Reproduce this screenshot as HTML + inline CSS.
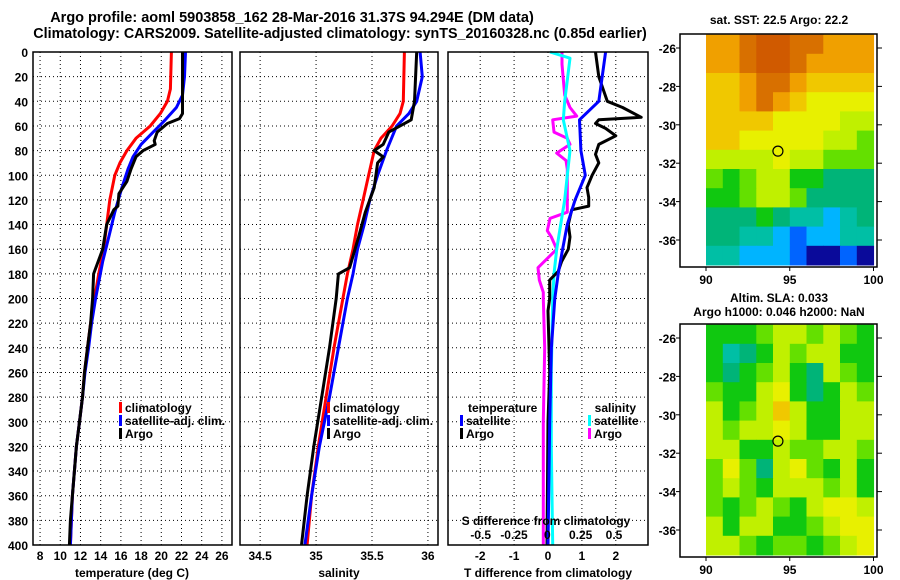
<!DOCTYPE html>
<html><head><meta charset="utf-8"><style>
html,body{margin:0;padding:0;background:#fff;}
svg{display:block;font-family:"Liberation Sans",Arial,sans-serif;font-weight:bold;}
</style></head><body>
<svg id="c" width="900" height="580" viewBox="0 0 900 580">
<text x="292" y="22" font-size="14.5" text-anchor="middle">Argo profile: aoml 5903858_162 28-Mar-2016 31.37S 94.294E (DM data)</text>
<text x="340" y="38" font-size="14.3" text-anchor="middle">Climatology: CARS2009. Satellite-adjusted climatology: synTS_20160328.nc (0.85d earlier)</text>
<text x="779" y="24" font-size="12" text-anchor="middle">sat. SST: 22.5 Argo: 22.2</text>
<text x="779" y="302" font-size="12" text-anchor="middle">Altim. SLA: 0.033</text>
<text x="779" y="316" font-size="12" text-anchor="middle">Argo h1000: 0.046 h2000: NaN</text>
<text transform="translate(893,548) rotate(-90)" font-size="12" font-weight="normal">©IMOS 13-Dec-2018 00:43:13</text>
<g id="g"></g>
</svg>
<script>
// ---- data ----
const depthTicks=[0,20,40,60,80,100,120,140,160,180,200,220,240,260,280,300,320,340,360,380,400];
const tTicks=[8,10,12,14,16,18,20,22,24,26];
const sTicks=[34.5,35,35.5,36];
const dTTicks=[-2,-1,0,1,2];
const dSTicks=[-0.5,-0.25,0,0.25,0.5];
const dSTickLabels=["-0.5","-0.25","0","0.25","0.5"];

const tClimDepth=[0,30,40,50,60,70,80,90,100,120,140,160,180,200,220,240,260,280,300,320,340,360,380,400];
const tClimVal=[21.0,20.9,20.6,19.9,18.9,17.5,16.6,15.9,15.4,14.9,14.6,14.3,13.8,13.4,13.0,12.7,12.4,12.2,11.9,11.6,11.4,11.2,11.1,11.0];
const tSatDepth=[0,20,35,45,55,65,75,85,95,110,130,150,170,200,220,240,260,280,300,320,340,360,380,400];
const tSatVal=[22.4,22.3,22.1,21.5,20.4,19.2,18.0,17.2,16.7,16.1,15.4,14.8,14.2,13.5,13.1,12.8,12.45,12.2,11.9,11.6,11.4,11.2,11.1,11.0];
const tArgoDepth=[0,50,54,58,65,72,75,80,85,95,105,115,125,128,140,160,180,200,220,240,260,280,300,320,340,360,380,400];
const tArgoVal=[22.1,22.1,21.8,20.6,19.6,19.3,19.4,18.2,17.5,17.0,16.6,15.8,15.7,15.3,14.6,14.2,13.3,13.2,13.0,12.7,12.4,12.2,11.9,11.6,11.4,11.2,11.0,10.9];

const sClimDepth=[0,40,50,60,70,80,100,120,140,160,180,200,240,280,320,360,400];
const sClimVal=[35.79,35.78,35.75,35.68,35.58,35.52,35.47,35.42,35.37,35.33,35.28,35.24,35.16,35.09,35.02,34.96,34.92];
const sSatDepth=[0,20,40,50,60,80,100,120,140,160,180,200,240,280,320,360,400];
const sSatVal=[35.93,35.95,35.9,35.83,35.72,35.63,35.55,35.48,35.43,35.37,35.33,35.28,35.2,35.12,35.03,34.96,34.9];
const sArgoDepth=[0,40,55,65,75,80,85,90,110,130,150,175,180,200,240,280,320,360,400];
const sArgoVal=[35.9,35.88,35.85,35.65,35.6,35.52,35.6,35.55,35.52,35.44,35.38,35.3,35.2,35.18,35.12,35.05,34.98,34.92,34.87];

const dTSatDepth=[0,40,55,80,100,120,140,160,180,200,240,300,400];
const dTSatVal=[1.7,1.5,0.93,0.97,1.1,0.8,0.57,0.43,0.3,0.2,0.1,0.05,0.0];
const dTArgoDepth=[0,20,40,45,53,55,58,62,68,75,83,90,100,110,118,125,128,140,150,160,170,178,185,200,210,260,300,400];
const dTArgoVal=[1.4,1.5,1.75,2.2,2.75,1.5,1.4,1.7,2.0,1.5,1.4,1.5,1.3,1.15,1.2,1.2,0.7,0.6,0.65,0.6,0.4,0.3,0.05,0.05,0.0,0.05,0.0,-0.03];
const dSSatDepth=[0,5,40,55,70,80,100,120,140,160,180,200,260,320,400];
const dSSatVal=[0.02,0.17,0.13,0.12,0.15,0.17,0.15,0.13,0.1,0.07,0.05,0.04,0.03,0.03,0.04];
const dSArgoDepth=[0,10,35,45,52,55,65,70,75,82,88,95,130,135,145,150,160,175,185,195,200,240,300,400];
const dSArgoVal=[0.11,0.11,0.13,0.17,0.22,0.04,0.05,0.15,0.17,0.07,0.14,0.15,0.15,0.02,0.0,0.03,0.07,-0.07,-0.06,-0.03,-0.03,-0.02,-0.03,-0.03];

const sstGrid=[
[10,10,11,12,12,11,11,10,10,10],
[10,10,11,12,12,11,10,10,10,10],
[9,9,10,11,11,10,9,9,9,9],
[9,9,10,11,10,9,8,8,8,8],
[9,9,9,9,8,8,8,8,7,7],
[9,9,8,8,8,8,8,7,7,6],
[7,7,7,7,8,7,7,6,6,6],
[6,5,6,7,7,5,5,4,4,4],
[5,5,6,7,7,6,4,4,4,4],
[4,4,4,5,4,3,3,2,3,4],
[4,4,3,3,2,1,2,2,3,3],
[3,3,2,2,2,1,0,0,1,0]];
const slaGrid=[
[5,5,5,6,7,7,6,7,6,5],
[5,3,4,5,7,6,7,7,5,5],
[5,4,5,6,7,5,4,7,6,5],
[6,5,5,7,8,5,4,5,7,6],
[7,5,6,7,9,7,5,5,7,7],
[7,6,7,7,8,7,5,5,7,7],
[7,7,5,5,7,6,6,7,7,6],
[6,8,6,4,7,8,6,5,7,5],
[6,7,6,5,7,7,7,6,7,5],
[6,5,6,7,6,5,7,8,8,7],
[7,5,7,7,5,5,6,7,8,8],
[7,7,6,5,6,6,5,6,7,8]];
const palette=["#0a0a9a","#0064ff","#00b4ff","#00bfa5","#00b478","#10c810","#64e000","#c0f000","#e8f000","#f0c800","#f0a000","#d87000","#d05a00","#ff0000"];
const floatLon=94.294, floatLat=-31.37;
const latTicks=[-26,-28,-30,-32,-34,-36];
const lonTicks=[90,95,100];

// ---- helpers ----
const NS="http://www.w3.org/2000/svg";
const G=document.getElementById('g');
function mk(tag,attrs,parent){const e=document.createElementNS(NS,tag);for(const k in attrs)e.setAttribute(k,attrs[k]);(parent||G).appendChild(e);return e;}
const Y0=52,Y1=545;
const yD=d=>Y0+(d/400)*(Y1-Y0);
const panels=[
 {x0:33,x1:232,vmin:7.3,vmax:27.0,name:'temperature-panel'},
 {x0:240,x1:438,vmin:34.32,vmax:36.09,name:'salinity-panel'},
 {x0:448,x1:648,vmin:-2.95,vmax:2.95,name:'difference-panel'}];
const sx=(p,v)=>p.x0+(v-p.vmin)/(p.vmax-p.vmin)*(p.x1-p.x0);
const dsPanel={x0:448,x1:648,vmin:-0.745,vmax:0.755};

function grid(p,ticks){
 for(const t of ticks){const x=sx(p,t);
  const l=mk('line',{x1:x,x2:x,y1:Y0,y2:Y1,stroke:'#000','stroke-dasharray':'1,3','stroke-width':1});
  
  }
 for(const d of depthTicks){const y=yD(d);
  const l=mk('line',{x1:p.x0,x2:p.x1,y1:y,y2:y,stroke:'#000','stroke-dasharray':'1,3','stroke-width':1});
  
  }
}
function frame(p){const r=mk('rect',{x:p.x0,y:Y0,width:p.x1-p.x0,height:Y1-Y0,fill:'none',stroke:'#000','stroke-width':1.5});
 
 }
function line(p,dep,val,color,name){
 const pts=dep.map((d,i)=>sx(p,val[i]).toFixed(1)+','+yD(d).toFixed(1)).join(' ');
 const e=mk('polyline',{points:pts,fill:'none',stroke:color,'stroke-width':3,'stroke-linejoin':'round'});
 
 }
function txt(x,y,s,attrs,name){const e=mk('text',Object.assign({x:x,y:y,'font-size':12},attrs||{}));e.textContent=s;
 
 return e;}

for(const d of depthTicks){txt(28,yD(d)+5,String(d),{'text-anchor':'end'},'depth-tick-label');}

grid(panels[0],tTicks);
line(panels[0],tClimDepth,tClimVal,'#ff0000','temperature-climatology-line');
line(panels[0],tSatDepth,tSatVal,'#0000ff','temperature-satellite-line');
line(panels[0],tArgoDepth,tArgoVal,'#000000','temperature-argo-line');
frame(panels[0]);
for(const t of tTicks)txt(sx(panels[0],t),560,String(t),{'text-anchor':'middle'},'temperature-tick-label');
txt(132,577,'temperature (deg C)',{'text-anchor':'middle'},'temperature-axis-title');

grid(panels[1],sTicks);
line(panels[1],sClimDepth,sClimVal,'#ff0000','salinity-climatology-line');
line(panels[1],sSatDepth,sSatVal,'#0000ff','salinity-satellite-line');
line(panels[1],sArgoDepth,sArgoVal,'#000000','salinity-argo-line');
frame(panels[1]);
for(const t of sTicks)txt(sx(panels[1],t),560,String(t),{'text-anchor':'middle'},'salinity-tick-label');
txt(339,577,'salinity',{'text-anchor':'middle'},'salinity-axis-title');

grid(panels[2],dTTicks);
line(dsPanel,dSArgoDepth,dSArgoVal,'#ff00ff','salinity-diff-argo-line');
line(dsPanel,dSSatDepth,dSSatVal,'#00ffff','salinity-diff-satellite-line');
line(panels[2],dTArgoDepth,dTArgoVal,'#000000','temperature-diff-argo-line');
line(panels[2],dTSatDepth,dTSatVal,'#0000ff','temperature-diff-satellite-line');
frame(panels[2]);
for(const t of dTTicks)txt(sx(panels[2],t),560,String(t),{'text-anchor':'middle'},'tdiff-tick-label');
txt(548,577,'T difference from climatology',{'text-anchor':'middle'},'tdiff-axis-title');
txt(546,525,'S difference from climatology',{'text-anchor':'middle'},'sdiff-axis-title');
dSTicks.forEach((t,i)=>txt(sx(dsPanel,t),539,dSTickLabels[i],{'text-anchor':'middle'},'sdiff-tick-label'));

function legItem(x,y,color,label,name){
 const r=mk('rect',{x:x,y:y-10,width:3,height:11,fill:color});
 
 
 txt(x+6,y,label,{},name);}
legItem(119,412,'#ff0000','climatology','legend-climatology');
legItem(119,425,'#0000ff','satellite-adj. clim.','legend-satellite-adj');
legItem(119,438,'#000000','Argo','legend-argo');
legItem(327,412,'#ff0000','climatology','legend2-climatology');
legItem(327,425,'#0000ff','satellite-adj. clim.','legend2-satellite-adj');
legItem(327,438,'#000000','Argo','legend2-argo');
txt(468,412,'temperature',{},'legend-temperature-heading');
legItem(460,425,'#0000ff','satellite','legend-tdiff-satellite');
legItem(460,438,'#000000','Argo','legend-tdiff-argo');
txt(636,412,'salinity',{'text-anchor':'end'},'legend-salinity-heading');
legItem(588,425,'#00ffff','satellite','legend-sdiff-satellite');
legItem(588,438,'#ff00ff','Argo','legend-sdiff-argo');

function map(top,gridData,name){
 const fx0=680,fx1=877,fy0=top,fy1=top+233;
 const lx=lon=>706+(lon-90)*16.75;
 const ly=lat=>top+14+(-26-lat)*19.2;
 const cw=16.75, ch=19.2;
 const latTop=-25.3;
 gridData.forEach((row,r)=>row.forEach((v,c)=>{
  const e=mk('rect',{x:lx(90+c).toFixed(1),y:ly(latTop-r).toFixed(1),width:cw+0.5,height:ch+0.5,fill:palette[v]});
  
  }));
 const w=mk('rect',{x:fx1,y:fy0-2,width:20,height:fy1-fy0+4,fill:'#fff'});
 
 
 const b=mk('rect',{x:fx0,y:fy1,width:200,height:10,fill:'#fff'});
 
 
 const f=mk('rect',{x:fx0,y:fy0,width:fx1-fx0,height:fy1-fy0,fill:'none',stroke:'#000','stroke-width':1.5});
 
 
 for(const la of latTicks){const y=ly(la);
  const t=mk('line',{x1:fx1,x2:fx1+5,y1:y,y2:y,stroke:'#000'});
  
  
  const t2=mk('line',{x1:fx0-4,x2:fx0,y1:y,y2:y,stroke:'#000'});
  
  
  txt(676,y+5,String(la),{'text-anchor':'end'},name+'-lat-label');}
 for(const lo of lonTicks){const x=lx(lo);
  const t=mk('line',{x1:x,x2:x,y1:fy1,y2:fy1+4,stroke:'#000'});
  
  
  txt(x,fy1+17,String(lo),{'text-anchor':'middle'},name+'-lon-label');}
 const c=mk('circle',{cx:lx(floatLon),cy:ly(floatLat),r:5,fill:'none',stroke:'#000','stroke-width':1.2});
 
 
}
map(34,sstGrid,'sst-map');
map(324,slaGrid,'sla-map');
</script>
</body></html>
